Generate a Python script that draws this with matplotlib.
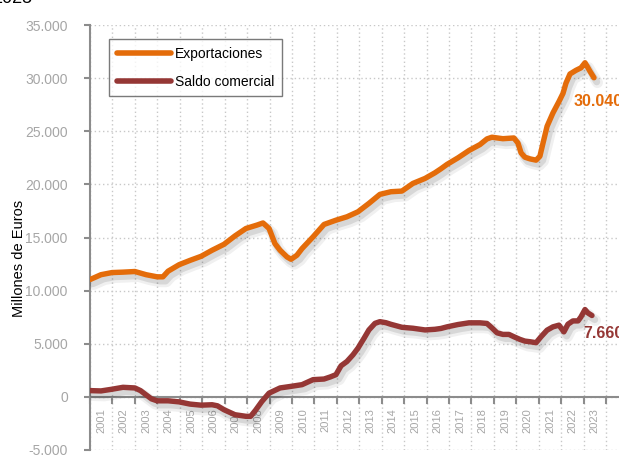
import matplotlib
matplotlib.use("Agg")
import matplotlib.pyplot as plt
import matplotlib.patheffects as pe
from matplotlib.lines import Line2D
from matplotlib.ticker import FixedLocator, FuncFormatter

plt.rcParams["font.family"] = ["Liberation Sans", "DejaVu Sans"]

# ------------------ datos (millones de euros) ------------------
anios_export = [2001.00, 2001.49, 2001.98, 2002.47, 2003.00, 2003.50, 2003.99, 2004.25,
                2004.48, 2004.97, 2005.46, 2005.95, 2006.44, 2006.97, 2007.46, 2007.95,
                2008.44, 2008.71, 2008.98, 2009.24, 2009.47, 2009.78, 2009.96, 2010.22,
                2010.45, 2010.94, 2011.43, 2011.96, 2012.45, 2012.94, 2013.43, 2013.92,
                2014.41, 2014.90, 2015.39, 2015.93, 2016.37, 2016.64, 2016.91, 2017.40,
                2017.89, 2018.38, 2018.69, 2018.91, 2019.40, 2019.89, 2020.07, 2020.21,
                2020.38, 2020.61, 2020.88, 2021.05, 2021.19, 2021.37, 2021.63, 2021.90,
                2022.08, 2022.21, 2022.39, 2022.66, 2022.88, 2023.06, 2023.15, 2023.28,
                2023.46]
exportaciones = [11040, 11500, 11700, 11740, 11800, 11500, 11300, 11300,
                 11830, 12440, 12850, 13230, 13800, 14360, 15150, 15850,
                 16170, 16370, 15850, 14430, 13800, 13170, 12950, 13330,
                 13960, 15060, 16230, 16630, 16950, 17420, 18210, 19060,
                 19310, 19370, 20090, 20560, 21090, 21470, 21880, 22500,
                 23190, 23750, 24280, 24440, 24300, 24370, 23900, 22970,
                 22560, 22400, 22280, 22650, 23900, 25470, 26720, 27800,
                 28570, 29520, 30390, 30740, 30970, 31450, 31130, 30650,
                 30040]

anios_saldo = [2001.00, 2001.49, 2001.98, 2002.47, 2003.00, 2003.25, 2003.50, 2003.74,
               2003.99, 2004.48, 2004.97, 2005.46, 2005.95, 2006.44, 2006.68, 2006.97,
               2007.46, 2007.95, 2008.16, 2008.38, 2008.66, 2008.98, 2009.47, 2009.96,
               2010.45, 2010.94, 2011.43, 2011.70, 2011.96, 2012.19, 2012.45, 2012.72,
               2012.94, 2013.21, 2013.43, 2013.70, 2013.92, 2014.19, 2014.41, 2014.90,
               2015.39, 2015.93, 2016.37, 2016.64, 2016.91, 2017.40, 2017.89, 2018.38,
               2018.69, 2018.91, 2019.14, 2019.40, 2019.67, 2019.89, 2020.16, 2020.38,
               2020.61, 2020.88, 2021.10, 2021.37, 2021.63, 2021.90, 2022.12, 2022.30,
               2022.52, 2022.75, 2022.88, 2023.06, 2023.19, 2023.37]
saldo = [590, 560, 720, 900, 840, 590, 190, -190,
         -370, -370, -470, -680, -780, -740, -840, -1210,
         -1680, -1830, -1830, -1250, -430, 350, 840, 990,
         1150, 1620, 1680, 1870, 2090, 2930, 3330, 3960,
         4580, 5510, 6300, 6920, 7080, 6980, 6830, 6550,
         6460, 6300, 6360, 6440, 6590, 6810, 6970, 6970,
         6910, 6500, 6030, 5880, 5880, 5660, 5410, 5250,
         5190, 5100, 5660, 6280, 6590, 6750, 6120, 6840,
         7150, 7150, 7530, 8220, 7900, 7660]

anios_ticks = list(range(2001, 2024))
etiquetas_ticks = [str(a) for a in anios_ticks]
# -----------------------------------------------------------------

NARANJA = "#E46C0A"
GRANATE = "#953735"
GRIS = "#8C8C8C"

fig = plt.figure(figsize=(6.19, 4.55), dpi=100)
ax = fig.add_axes([0.1454, 0.011, 0.870, 0.934])

# sombra difusa (dos capas) bajo las lineas
sombra = [pe.SimpleLineShadow(offset=(2.5, -3.5), shadow_color="black", alpha=0.06, linewidth=8),
          pe.SimpleLineShadow(offset=(2.0, -3.0), shadow_color="black", alpha=0.10, linewidth=5),
          pe.Normal()]

ax.plot(anios_export, exportaciones, color=NARANJA, lw=3.9, solid_capstyle="round",
        solid_joinstyle="round", path_effects=sombra, zorder=4)
ax.plot(anios_saldo, saldo, color=GRANATE, lw=3.9, solid_capstyle="round",
        solid_joinstyle="round", path_effects=sombra, zorder=4)

ax.set_xlim(2001, 2025)
ax.set_ylim(-5000, 35000)

# ejes
ax.spines["top"].set_visible(False)
ax.spines["right"].set_visible(False)
ax.spines["left"].set_color(GRIS)
ax.spines["left"].set_linewidth(1.5)
ax.spines["bottom"].set_position(("data", 0))
ax.spines["bottom"].set_color(GRIS)
ax.spines["bottom"].set_linewidth(1.5)
ax.spines["bottom"].set_zorder(3)

ax.set_yticks(range(-5000, 35001, 5000))
ax.yaxis.set_major_formatter(FuncFormatter(lambda v, p: f"{int(v):,}".replace(",", ".")))
ax.tick_params(axis="y", colors=GRIS, labelcolor="#A6A6A6", labelsize=10, length=4,
               width=1.5, pad=12)

ax.xaxis.set_major_locator(FixedLocator(list(range(2001, 2025))))
ax.xaxis.set_major_formatter(FuncFormatter(lambda v, p: ""))
ax.set_xticks([a + 0.5 for a in anios_ticks], etiquetas_ticks, minor=True)
ax.tick_params(axis="x", which="major", colors=GRIS, length=5, width=1.5)
ax.tick_params(axis="x", which="minor", length=0, labelsize=8, labelcolor="#A6A6A6",
               labelrotation=90, pad=8)

ax.grid(True, which="major", color="#C8C8C8", linestyle=(0, (1, 2)), linewidth=1.0)
ax.set_axisbelow(True)

ax.set_ylabel("Millones de Euros", fontsize=10.5, color="black")
ax.yaxis.set_label_coords(-0.118, 0.45)

# etiquetas de ultimo valor
ax.annotate("30.040", xy=(anios_export[-1], exportaciones[-1]), xytext=(-14.5, -17),
            textcoords="offset points", color=NARANJA, fontsize=11.5, fontweight="bold",
            va="center", ha="left", annotation_clip=False)
ax.annotate("7.660", xy=(anios_saldo[-1], saldo[-1]), xytext=(-6.5, -13),
            textcoords="offset points", color=GRANATE, fontsize=11.5, fontweight="bold",
            va="center", ha="left", annotation_clip=False)

# leyenda
handles = [Line2D([], [], color=NARANJA, lw=4, solid_capstyle="round"),
           Line2D([], [], color=GRANATE, lw=4, solid_capstyle="round")]
leg = ax.legend(handles, ["Exportaciones", "Saldo comercial"], loc="upper left",
                bbox_to_anchor=(109 / 619, 1 - 39 / 455), bbox_transform=fig.transFigure,
                fancybox=False, frameon=True, edgecolor="#595959", fontsize=10,
                handlelength=3.9, handletextpad=0.3, labelspacing=1.0,
                borderpad=0.55, borderaxespad=0)
leg.get_frame().set_linewidth(1.0)

# titulo recortado en el original
fig.text(-0.012, 1.003, "2025", fontsize=13, color="black", va="center", ha="left")

fig.savefig("out.png", dpi=100)
